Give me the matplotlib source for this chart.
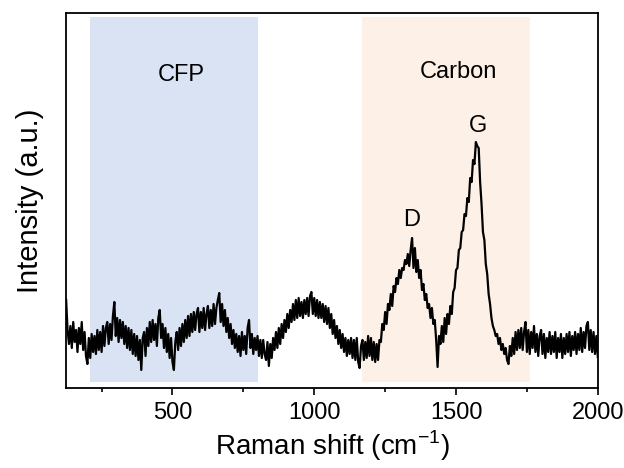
import numpy as np
import matplotlib
matplotlib.use("Agg")
import matplotlib.pyplot as plt

plt.rcParams['font.family'] = ['Liberation Sans', 'DejaVu Sans']
plt.rcParams['mathtext.fontset'] = 'custom'
plt.rcParams['mathtext.rm'] = 'Liberation Sans'

# Raman shift grid (cm-1), 5 cm-1 step from 125 to 2000
shift = np.arange(125, 2001, 5)

# intensity (a.u.), one row per 100 cm-1
intensity = [
    88, 58, 44, 62, 40, 66, 46, 58, 36, 60, 44, 66, 38, 56, 32, 24, 50, 30, 54, 36,       # 125-220
    52, 34, 58, 38, 56, 36, 62, 42, 60, 66, 44, 64, 48, 72, 86, 52, 70, 46, 68, 50,       # 225-320
    66, 44, 62, 40, 60, 38, 58, 34, 54, 32, 52, 28, 48, 18, 50, 56, 32, 60, 42, 66,       # 325-420
    46, 68, 48, 64, 42, 70, 78, 50, 64, 40, 60, 36, 54, 30, 50, 26, 18, 46, 56, 38,       # 425-520
    60, 42, 64, 46, 68, 50, 72, 52, 74, 56, 76, 58, 74, 80, 56, 76, 60, 80, 58, 74,       # 525-620
    82, 60, 78, 62, 84, 64, 80, 88, 95, 66, 84, 62, 78, 56, 70, 50, 64, 44, 58, 40,       # 625-720
    54, 36, 52, 32, 56, 38, 52, 34, 60, 68, 40, 54, 34, 50, 38, 52, 32, 48, 30, 48,       # 725-820
    34, 28, 46, 22, 44, 30, 50, 38, 56, 40, 60, 44, 64, 50, 68, 56, 74, 60, 78, 66,       # 825-920
    84, 68, 88, 70, 90, 72, 86, 70, 88, 74, 90, 72, 92, 96, 74, 90, 72, 88, 70, 86,       # 925-1020
    70, 84, 66, 82, 64, 80, 60, 74, 54, 68, 50, 62, 44, 58, 40, 54, 36, 50, 32, 48,       # 1025-1120
    34, 50, 30, 48, 28, 50, 26, 20, 42, 48, 28, 46, 30, 52, 32, 50, 28, 46, 26, 44,       # 1125-1220
    28, 48, 46, 64, 58, 76, 64, 84, 78, 94, 82, 102, 96, 110, 104, 118, 110, 120, 118, 128,      # 1225-1320
    124, 134, 122, 138, 150, 120, 140, 116, 128, 110, 118, 98, 104, 88, 94, 80, 84, 70, 80, 64,  # 1325-1420
    68, 48, 21, 52, 44, 62, 46, 70, 54, 74, 64, 82, 74, 96, 100, 118, 120, 138, 140, 156,        # 1425-1520
    158, 174, 172, 190, 186, 210, 206, 228, 224, 246, 242, 240, 206, 184, 156, 148, 124, 114, 94, 84,  # 1525-1620
    70, 62, 58, 52, 54, 44, 50, 38, 44, 34, 40, 28, 24, 42, 32, 50, 34, 56, 38, 58,       # 1625-1720
    40, 60, 38, 56, 66, 36, 58, 34, 56, 40, 62, 36, 54, 32, 52, 58, 34, 54, 30, 50,       # 1725-1820
    36, 56, 34, 52, 36, 56, 30, 50, 36, 54, 30, 50, 34, 54, 36, 56, 32, 52, 38, 56,       # 1825-1920
    34, 54, 38, 60, 36, 56, 40, 62, 66, 38, 58, 36, 56, 34, 52, 31,                       # 1925-2000
]

# shaded regions
cfp_range = (210, 800)
carbon_range = (1170, 1760)

fig = plt.figure(figsize=(6.24, 4.68), dpi=100)
ax = fig.add_axes([0.106, 0.171, 0.852, 0.801])

ax.axvspan(*cfp_range, ymin=0.016, ymax=0.989, color='#dae3f3', lw=0, zorder=0)
ax.axvspan(*carbon_range, ymin=0.016, ymax=0.989, color='#fcf0e7', lw=0, zorder=0)

ax.plot(shift, intensity, color='black', lw=1.6, zorder=2)

ax.text(530, 313, 'CFP', ha='center', va='center', fontsize=17)
ax.text(1510, 316, 'Carbon', ha='center', va='center', fontsize=17)
ax.text(1345, 168, 'D', ha='center', va='center', fontsize=17)
ax.text(1578, 262, 'G', ha='center', va='center', fontsize=17)

ax.set_xlim(125, 2000)
ax.set_ylim(0, 375)
ax.set_yticks([])
ax.set_xticks([500, 1000, 1500, 2000])
ax.set_xticks([250, 750, 1250, 1750], minor=True)
ax.tick_params(axis='x', which='major', direction='out', length=5, width=1.2, labelsize=17, pad=5)
ax.tick_params(axis='x', which='minor', direction='out', length=3, width=1.2)
for s in ax.spines.values():
    s.set_linewidth(1.3)

ax.set_xlabel('Raman shift (cm$^{-1}$)', fontsize=20, labelpad=3)
ax.set_ylabel('Intensity (a.u.)', fontsize=21, labelpad=16)

fig.savefig('out.png', dpi=100)
